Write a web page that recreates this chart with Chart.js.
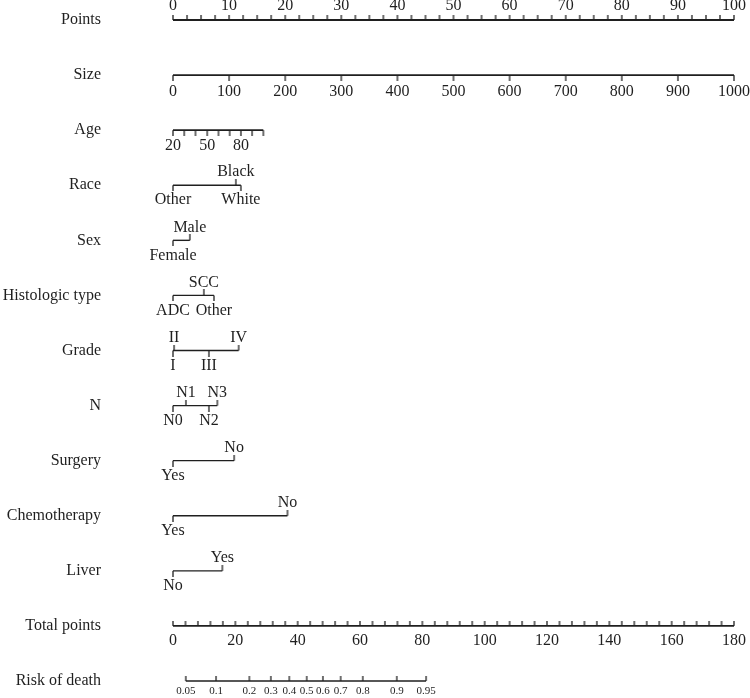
<!DOCTYPE html>
<html>
<head>
<meta charset="utf-8">
<script src="https://cdn.jsdelivr.net/npm/chart.js@4.4.0/dist/chart.umd.min.js"></script>
<style>
  html, body { margin: 0; padding: 0; background: #fff; }
  #wrap { width: 750px; height: 698px; }
</style>
</head>
<body>
<div id="wrap"><canvas id="nomograma"></canvas></div>
<script>
// filas del nomograma, de arriba a abajo
const rowNames = ['Points', 'Size', 'Age', 'Race', 'Sex', 'Histologic type', 'Grade', 'N',
  'Surgery', 'Chemotherapy', 'Liver', 'Total points', 'Risk of death'];

// escala de puntos (0-100)
const pointsLabels = [0, 10, 20, 30, 40, 50, 60, 70, 80, 90, 100];
const pointsTicks = [0, 2.5, 5, 7.5, 10, 12.5, 15, 17.5, 20, 22.5, 25, 27.5, 30, 32.5, 35, 37.5,
  40, 42.5, 45, 47.5, 50, 52.5, 55, 57.5, 60, 62.5, 65, 67.5, 70, 72.5, 75, 77.5, 80, 82.5, 85,
  87.5, 90, 92.5, 95, 97.5, 100];

// variables continuas: valor y puntos
const sizeValues = ['0', '100', '200', '300', '400', '500', '600', '700', '800', '900', '1000'];
const sizePoints = [0, 10, 20, 30, 40, 50, 60, 70, 80, 90, 100];
const ageValues = ['20', '', '', '50', '', '', '80', '', ''];
const agePoints = [0, 2.0, 4.0, 6.1, 8.1, 10.1, 12.1, 14.1, 16.1];

// variables categóricas
const raceLevels = ['Other', 'Black', 'White'];
const racePoints = [0, 11.2, 12.1];
const raceSide = ['below', 'above', 'below'];
const sexLevels = ['Female', 'Male'];
const sexPoints = [0, 3.0];
const sexSide = ['below', 'above'];
const histLevels = ['ADC', 'SCC', 'Other'];
const histPoints = [0, 5.5, 7.3];
const histSide = ['below', 'above', 'below'];
const gradeLevels = ['I', 'II', 'III', 'IV'];
const gradePoints = [0, 0.2, 6.4, 11.7];
const gradeSide = ['below', 'above', 'below', 'above'];
const nLevels = ['N0', 'N1', 'N2', 'N3'];
const nPoints = [0, 2.3, 6.4, 7.9];
const nSide = ['below', 'above', 'below', 'above'];
const surgeryLevels = ['Yes', 'No'];
const surgeryPoints = [0, 10.9];
const surgerySide = ['below', 'above'];
const chemoLevels = ['Yes', 'No'];
const chemoPoints = [0, 20.4];
const chemoSide = ['below', 'above'];
const liverLevels = ['No', 'Yes'];
const liverPoints = [0, 8.8];
const liverSide = ['below', 'above'];

// puntos totales (0-180)
const totalLabels = [0, 20, 40, 60, 80, 100, 120, 140, 160, 180];
const totalTicks = [0, 4, 8, 12, 16, 20, 24, 28, 32, 36, 40, 44, 48, 52, 56, 60, 64, 68, 72, 76,
  80, 84, 88, 92, 96, 100, 104, 108, 112, 116, 120, 124, 128, 132, 136, 140, 144, 148, 152, 156,
  160, 164, 168, 172, 176, 180];

// riesgo de muerte en escala de puntos totales
const riskLabels = ['0.05', '0.1', '0.2', '0.3', '0.4', '0.5', '0.6', '0.7', '0.8', '0.9', '0.95'];
const riskTotal = [4.1, 13.8, 24.5, 31.4, 37.3, 42.9, 48.1, 53.8, 60.9, 71.8, 81.2];

const INK = '#1f1f1f';
const FONT = '"Liberation Serif", "DejaVu Serif", serif';

// marca de tick como imagen (centrada en el punto)
function tickImg(dir, len) {
    const c = document.createElement('canvas');
    c.width = 4;
    c.height = 2 * len + 2;
    const g = c.getContext('2d');
    g.strokeStyle = INK;
    g.lineWidth = 1.3;
    g.beginPath();
    const mid = len + 1;
    g.moveTo(2, mid);
    g.lineTo(2, dir === 'up' ? 0 : c.height);
    g.stroke();
    return c;
}

function axisLine(row, from, to, xAxisID, width) {
    return {
        type: 'line', xAxisID: xAxisID, yAxisID: 'y', clip: false,
        data: [{x: from, y: row}, {x: to, y: row}],
        borderColor: INK, borderWidth: width || 1.6, pointRadius: 0
    };
}

function tickSet(row, xs, dirs, len, xAxisID) {
    return {
        type: 'scatter', xAxisID: xAxisID, yAxisID: 'y', clip: false,
        data: xs.map(x => ({x: x, y: row})),
        pointStyle: xs.map((x, i) => tickImg(Array.isArray(dirs) ? (dirs[i] === 'above' ? 'up' : 'down') : dirs, len)),
        pointRadius: len, showLine: false
    };
}

const catRows = [
    {row: 3, levels: raceLevels, pts: racePoints, side: raceSide},
    {row: 4, levels: sexLevels, pts: sexPoints, side: sexSide},
    {row: 5, levels: histLevels, pts: histPoints, side: histSide},
    {row: 6, levels: gradeLevels, pts: gradePoints, side: gradeSide},
    {row: 7, levels: nLevels, pts: nPoints, side: nSide},
    {row: 8, levels: surgeryLevels, pts: surgeryPoints, side: surgerySide},
    {row: 9, levels: chemoLevels, pts: chemoPoints, side: chemoSide},
    {row: 10, levels: liverLevels, pts: liverPoints, side: liverSide}
];

const datasets = [
    axisLine(0, 0, 100, 'x', 1.8),
    tickSet(0, pointsTicks, 'up', 4, 'x'),
    axisLine(1, 0, 100, 'x', 1.8),
    tickSet(1, sizePoints, 'down', 5, 'x'),
    axisLine(2, agePoints[0], agePoints[agePoints.length - 1], 'x', 1.6),
    tickSet(2, agePoints, 'down', 5, 'x')
];
catRows.forEach(c => {
    datasets.push(axisLine(c.row, Math.min(...c.pts), Math.max(...c.pts), 'x', 1.4));
    datasets.push(tickSet(c.row, c.pts, c.side, 5, 'x'));
});
datasets.push(axisLine(11, 0, 180, 'xTot', 1.6));
datasets.push(tickSet(11, totalTicks, 'up', 4, 'xTot'));
datasets.push(axisLine(12, riskTotal[0], riskTotal[riskTotal.length - 1], 'xTot', 1.6));
datasets.push(tickSet(12, riskTotal, 'up', 4, 'xTot'));

// textos de las escalas
const etiquetas = {
    id: 'etiquetas',
    afterDatasetsDraw(chart) {
        const ctx = chart.ctx;
        const sx = chart.scales.x, st = chart.scales.xTot, sy = chart.scales.y;
        const put = (scale, v, row, dy, txt, size) => {
            ctx.font = size + 'px ' + FONT;
            ctx.fillText(txt, scale.getPixelForValue(v), sy.getPixelForValue(row) + dy);
        };
        ctx.save();
        ctx.fillStyle = INK;
        ctx.textAlign = 'center';
        ctx.textBaseline = 'middle';
        pointsLabels.forEach(v => put(sx, v, 0, -14, String(v), 16));
        sizePoints.forEach((p, i) => put(sx, p, 1, 17, sizeValues[i], 16));
        agePoints.forEach((p, i) => { if (ageValues[i]) put(sx, p, 2, 16, ageValues[i], 16); });
        catRows.forEach(c => {
            c.levels.forEach((lv, i) => put(sx, c.pts[i], c.row, c.side[i] === 'above' ? -13 : 15, lv, 16));
        });
        totalLabels.forEach(v => put(st, v, 11, 15, String(v), 16));
        riskTotal.forEach((p, i) => put(st, p, 12, 10, riskLabels[i], 11));
        ctx.restore();
    }
};

new Chart(document.getElementById('nomograma'), {
    data: { datasets: datasets },
    options: {
        responsive: true,
        maintainAspectRatio: false,
        animation: false,
        layout: { padding: { top: 20, bottom: 17, left: 0, right: 16 } },
        plugins: { legend: { display: false }, tooltip: { enabled: false } },
        scales: {
            x: { type: 'linear', min: 0, max: 100, display: false },
            xTot: { type: 'linear', min: 0, max: 180, display: false },
            y: {
                type: 'linear', min: 0, max: 12, reverse: true,
                afterFit: (scale) => {
                    scale.width = 173;
                    scale.paddingTop = 0;
                    scale.paddingBottom = 0;
                },
                grid: { display: false, drawTicks: false },
                border: { display: false },
                ticks: {
                    stepSize: 1, autoSkip: false, padding: 72,
                    color: INK,
                    font: { family: FONT, size: 16 },
                    callback: (v) => rowNames[v] || ''
                }
            }
        }
    },
    plugins: [etiquetas]
});
</script>
</body>
</html>
